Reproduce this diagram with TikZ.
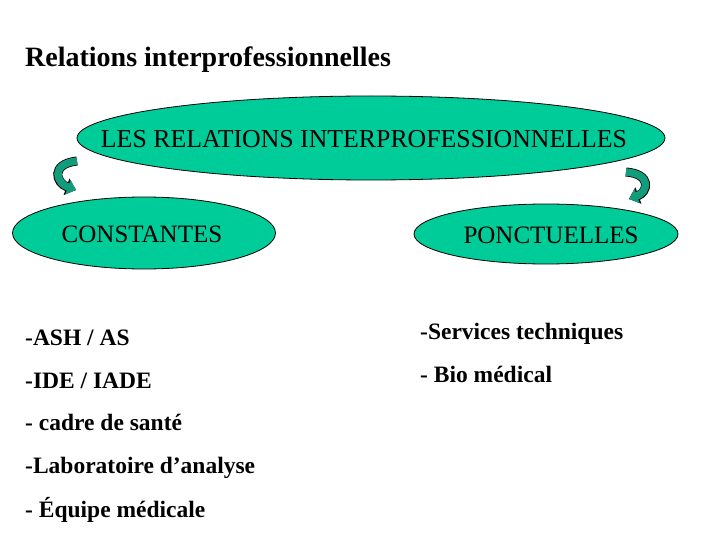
\documentclass[tikz,border=0pt]{standalone}
\usepackage{fontspec}
\setmainfont{Liberation Serif}
\usetikzlibrary{arrows.meta,shapes.geometric}
\definecolor{ovalgreen}{HTML}{00CC99}
\definecolor{arrowgreen}{HTML}{119C7C}

\begin{document}
\begin{tikzpicture}[
  x=1pt, y=-1pt,
  oval/.style={
    ellipse, draw=black, line width=0.8pt, fill=ovalgreen, inner sep=0pt,
  },
  ovaltext/.style={inner sep=0pt, font=\fontsize{25}{28}\selectfont},
  item/.style={anchor=base west, inner sep=0pt, font=\fontsize{23.5}{26}\selectfont\bfseries},
  bendarrow/.style={line width=9pt, draw=black, -{Triangle[length=10pt,width=17pt]}},
  bendarrowin/.style={line width=7.4pt, draw=arrowgreen, -{Triangle[length=8.6pt,width=14.6pt]}},
]
\useasboundingbox[fill=white] (0,0) rectangle (720,540);

% Title
\node[anchor=base west, inner sep=0pt, font=\fontsize{28}{32}\selectfont\bfseries] (title) at (25,67) {Relations interprofessionnelles};

% Ovals
\node[oval, minimum width=588pt, minimum height=84pt] (main) at (371,138) {};
\node[oval, minimum width=263pt, minimum height=72pt] (const) at (144,233) {};
\node[oval, minimum width=264pt, minimum height=60pt] (ponct) at (546,234) {};
\node[ovaltext, font=\fontsize{25.8}{28}\selectfont] (maintext) at (364,139) {LES RELATIONS INTERPROFESSIONNELLES};
\node[ovaltext] (consttext) at (142,234) {CONSTANTES};
\node[ovaltext] (poncttext) at (551,235) {PONCTUELLES};

% Curved arrows
\coordinate (la1) at (77,161);
\coordinate (la2) at (76,190);
\coordinate (ra1) at (626,172);
\coordinate (ra2) at (629,199);
\draw[bendarrow] (la1) .. controls (50,164) and (56,183) .. (la2);
\draw[bendarrowin] (la1) .. controls (50,164) and (56,183) .. (la2);
\draw[bendarrow] (ra1) .. controls (652,174) and (648,192) .. (ra2);
\draw[bendarrowin] (ra1) .. controls (652,174) and (648,192) .. (ra2);

% Left list
\node[item] (c1) at (25,345) {-ASH / AS};
\node[item] (c2) at (25,388) {-IDE / IADE};
\node[item] (c3) at (25,430) {- cadre de santé};
\node[item] (c4) at (25,473) {-Laboratoire d’analyse};
\node[item] (c5) at (25,517) {- Équipe médicale};

% Right list
\node[item] (p1) at (420,339) {-Services techniques};
\node[item] (p2) at (420,382) {- Bio médical};

\end{tikzpicture}
\end{document}
